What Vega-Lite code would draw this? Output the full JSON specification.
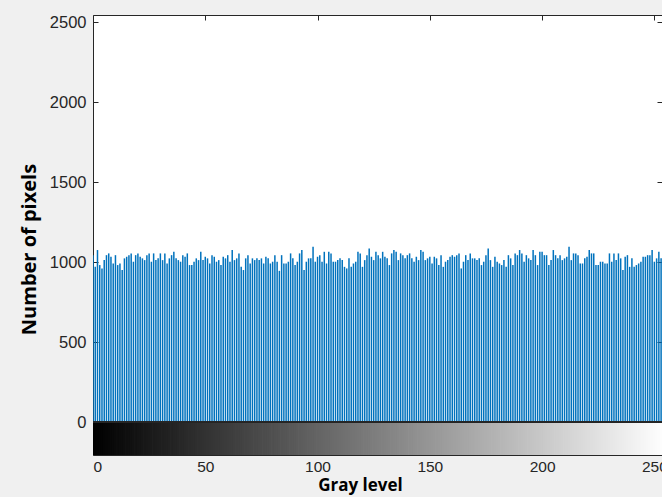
{
  "$schema": "https://vega.github.io/schema/vega-lite/v6.json",
  "width": 569,
  "height": 440,
  "autosize": {"type": "none"},
  "padding": {"left": 93, "top": 15, "right": 0, "bottom": 42},
  "background": "#f0f0f0",
  "view": {"fill": "white", "stroke": null},
  "config": {
    "axis": {
      "labelFont": "Liberation Sans",
      "labelColor": "#262626",
      "domainColor": "#262626",
      "tickColor": "#262626",
      "grid": false,
      "titleFont": "Open Sans",
      "titleFontWeight": "bold",
      "titleColor": "#000000"
    }
  },
  "data": {
    "values": [
      {"g":0,"n":1043},{"g":1,"n":970},{"g":2,"n":1075},{"g":3,"n":981},{"g":4,"n":960},{"g":5,"n":1012},{"g":6,"n":1043},{"g":7,"n":1054},{"g":8,"n":1033},{"g":9,"n":991},
      {"g":10,"n":1043},{"g":11,"n":981},{"g":12,"n":991},{"g":13,"n":950},{"g":14,"n":1023},{"g":15,"n":1033},{"g":16,"n":1043},{"g":17,"n":1054},{"g":18,"n":1002},{"g":19,"n":1043},
      {"g":20,"n":1054},{"g":21,"n":1033},{"g":22,"n":1023},{"g":23,"n":1012},{"g":24,"n":1043},{"g":25,"n":1054},{"g":26,"n":1002},{"g":27,"n":1054},{"g":28,"n":1012},{"g":29,"n":1023},
      {"g":30,"n":1054},{"g":31,"n":1012},{"g":32,"n":1054},{"g":33,"n":991},{"g":34,"n":1023},{"g":35,"n":1043},{"g":36,"n":1064},{"g":37,"n":1023},{"g":38,"n":1012},{"g":39,"n":1002},
      {"g":40,"n":1043},{"g":41,"n":1033},{"g":42,"n":1054},
      {"g":43,"n":981},{"g":44,"n":981},{"g":45,"n":1002},{"g":46,"n":1023},{"g":47,"n":1012},{"g":48,"n":1064},{"g":49,"n":1012},{"g":50,"n":1033},{"g":51,"n":1023},{"g":52,"n":991},
      {"g":53,"n":1043},{"g":54,"n":1033},{"g":55,"n":1002},{"g":56,"n":1012},{"g":57,"n":981},{"g":58,"n":1033},{"g":59,"n":1023},{"g":60,"n":1043},{"g":61,"n":1002},{"g":62,"n":1075},
      {"g":63,"n":1012},{"g":64,"n":1023},{"g":65,"n":1054},{"g":66,"n":970},{"g":67,"n":950},{"g":68,"n":1023},{"g":69,"n":1043},{"g":70,"n":991},{"g":71,"n":1023},{"g":72,"n":1012},
      {"g":73,"n":1023},{"g":74,"n":1012},{"g":75,"n":1023},{"g":76,"n":991},{"g":77,"n":1033},{"g":78,"n":1023},{"g":79,"n":991},{"g":80,"n":1002},{"g":81,"n":1043},{"g":82,"n":1002},
      {"g":83,"n":945},{"g":84,"n":1043},{"g":85,"n":991},
      {"g":86,"n":991},{"g":87,"n":1002},{"g":88,"n":1054},{"g":89,"n":1023},{"g":90,"n":981},{"g":91,"n":1002},{"g":92,"n":1054},{"g":93,"n":1075},{"g":94,"n":950},{"g":95,"n":1002},
      {"g":96,"n":1023},{"g":97,"n":1023},{"g":98,"n":1095},{"g":99,"n":1002},{"g":100,"n":1033},{"g":101,"n":1043},{"g":102,"n":1002},{"g":103,"n":1064},{"g":104,"n":991},{"g":105,"n":1064},
      {"g":106,"n":1054},{"g":107,"n":1002},{"g":108,"n":1002},{"g":109,"n":1012},{"g":110,"n":1023},{"g":111,"n":1012},{"g":112,"n":970},{"g":113,"n":960},{"g":114,"n":1023},{"g":115,"n":970},
      {"g":116,"n":991},{"g":117,"n":1002},{"g":118,"n":1064},{"g":119,"n":1054},{"g":120,"n":970},{"g":121,"n":1012},{"g":122,"n":1043},{"g":123,"n":1085},{"g":124,"n":1033},{"g":125,"n":1012},
      {"g":126,"n":1064},{"g":127,"n":1043},{"g":128,"n":1023},
      {"g":129,"n":1064},{"g":130,"n":1033},{"g":131,"n":1023},{"g":132,"n":981},{"g":133,"n":1054},{"g":134,"n":1075},{"g":135,"n":1064},{"g":136,"n":1012},{"g":137,"n":1054},{"g":138,"n":1043},
      {"g":139,"n":1023},{"g":140,"n":1043},{"g":141,"n":1054},{"g":142,"n":1023},{"g":143,"n":1002},{"g":144,"n":1033},{"g":145,"n":1012},{"g":146,"n":1075},{"g":147,"n":1064},{"g":148,"n":1012},
      {"g":149,"n":1023},{"g":150,"n":1033},{"g":151,"n":991},{"g":152,"n":1033},{"g":153,"n":1023},{"g":154,"n":981},{"g":155,"n":1043},{"g":156,"n":970},{"g":157,"n":1002},{"g":158,"n":1012},
      {"g":159,"n":1033},{"g":160,"n":1043},{"g":161,"n":1033},{"g":162,"n":1043},{"g":163,"n":1054},{"g":164,"n":960},{"g":165,"n":1002},{"g":166,"n":1043},{"g":167,"n":1012},{"g":168,"n":1054},
      {"g":169,"n":1023},{"g":170,"n":1023},{"g":171,"n":1012},
      {"g":172,"n":1023},{"g":173,"n":981},{"g":174,"n":1002},{"g":175,"n":1043},{"g":176,"n":1085},{"g":177,"n":1012},{"g":178,"n":970},{"g":179,"n":1033},{"g":180,"n":1002},{"g":181,"n":991},
      {"g":182,"n":981},{"g":183,"n":1012},{"g":184,"n":970},{"g":185,"n":1043},{"g":186,"n":1023},{"g":187,"n":981},{"g":188,"n":1054},{"g":189,"n":1043},{"g":190,"n":1075},{"g":191,"n":1054},
      {"g":192,"n":1002},{"g":193,"n":1043},{"g":194,"n":1023},{"g":195,"n":1012},{"g":196,"n":1075},{"g":197,"n":1043},{"g":198,"n":981},{"g":199,"n":1064},{"g":200,"n":1064},{"g":201,"n":1043},
      {"g":202,"n":1043},{"g":203,"n":981},{"g":204,"n":1012},{"g":205,"n":1075},{"g":206,"n":1043},{"g":207,"n":1023},{"g":208,"n":1043},{"g":209,"n":1012},{"g":210,"n":1023},{"g":211,"n":1033},
      {"g":212,"n":1095},{"g":213,"n":1012},{"g":214,"n":1054},
      {"g":215,"n":1054},{"g":216,"n":1043},{"g":217,"n":991},{"g":218,"n":991},{"g":219,"n":1023},{"g":220,"n":1033},{"g":221,"n":1075},{"g":222,"n":1054},{"g":223,"n":1054},{"g":224,"n":981},
      {"g":225,"n":981},{"g":226,"n":1002},{"g":227,"n":1002},{"g":228,"n":991},{"g":229,"n":991},{"g":230,"n":1054},{"g":231,"n":1002},{"g":232,"n":1054},{"g":233,"n":1012},{"g":234,"n":1054},
      {"g":235,"n":1023},{"g":236,"n":950},{"g":237,"n":1033},{"g":238,"n":1043},{"g":239,"n":970},{"g":240,"n":1023},{"g":241,"n":970},{"g":242,"n":981},{"g":243,"n":991},{"g":244,"n":1002},
      {"g":245,"n":1033},{"g":246,"n":1033},{"g":247,"n":1043},{"g":248,"n":1043},{"g":249,"n":1075},{"g":250,"n":1002},{"g":251,"n":1023},{"g":252,"n":1064},{"g":253,"n":1023},{"g":254,"n":1033},
      {"g":255,"n":1043}
    ]
  },
  "resolve": {"axis": {"x": "independent", "y": "independent"}},
  "layer": [
    {
      "mark": {"type": "bar", "clip": true, "size": 1.5, "color": "#0072BD"},
      "encoding": {
        "x": {
          "field": "g", "type": "quantitative",
          "scale": {"domain": [0, 253.4], "nice": false, "zero": false, "padding": 0},
          "axis": {
            "orient": "bottom", "values": [0, 50, 100, 150, 200, 250], "format": "d",
            "labelFont": "Liberation Sans", "labelFontSize": 15.5,
            "tickSize": -5, "labelPadding": 9, "domain": true,
            "title": "Gray level", "titleFontSize": 17, "titlePadding": 3, "titleX": 267, "titleAnchor": "middle"
          }
        },
        "y": {
          "field": "n", "type": "quantitative",
          "scale": {"domain": [-206, 2544], "nice": false, "zero": false, "padding": 0},
          "axis": {
            "orient": "left", "values": [0, 500, 1000, 1500, 2000, 2500], "format": "d",
            "labelFont": "Liberation Sans", "labelFontSize": 16.5,
            "tickSize": -5, "labelPadding": 12, "domain": true,
            "title": "Number of pixels", "titleFontSize": 20, "titlePadding": 10, "titleY": 234
          }
        }
      }
    },
    {
      "mark": {"type": "bar", "clip": true, "size": 3},
      "encoding": {
        "x": {
          "field": "g", "type": "quantitative",
          "axis": {"orient": "top", "values": [0, 50, 100, 150, 200, 250], "tickSize": -5, "labels": false, "title": null, "domain": true}
        },
        "y": {"datum": 0, "type": "quantitative", "axis": {"orient": "right", "values": [500, 1000, 1500, 2000, 2500], "tickSize": -5, "labels": false, "title": null, "domain": false}},
        "y2": {"datum": -206},
        "color": {
          "field": "g", "type": "quantitative",
          "scale": {"domain": [0, 255], "range": ["#000000", "#ffffff"], "interpolate": "rgb"},
          "legend": null
        }
      }
    },
    {
      "mark": {"type": "rule", "color": "#262626", "strokeWidth": 1.2},
      "encoding": {"y": {"datum": 0, "type": "quantitative", "axis": null}}
    }
  ]
}
